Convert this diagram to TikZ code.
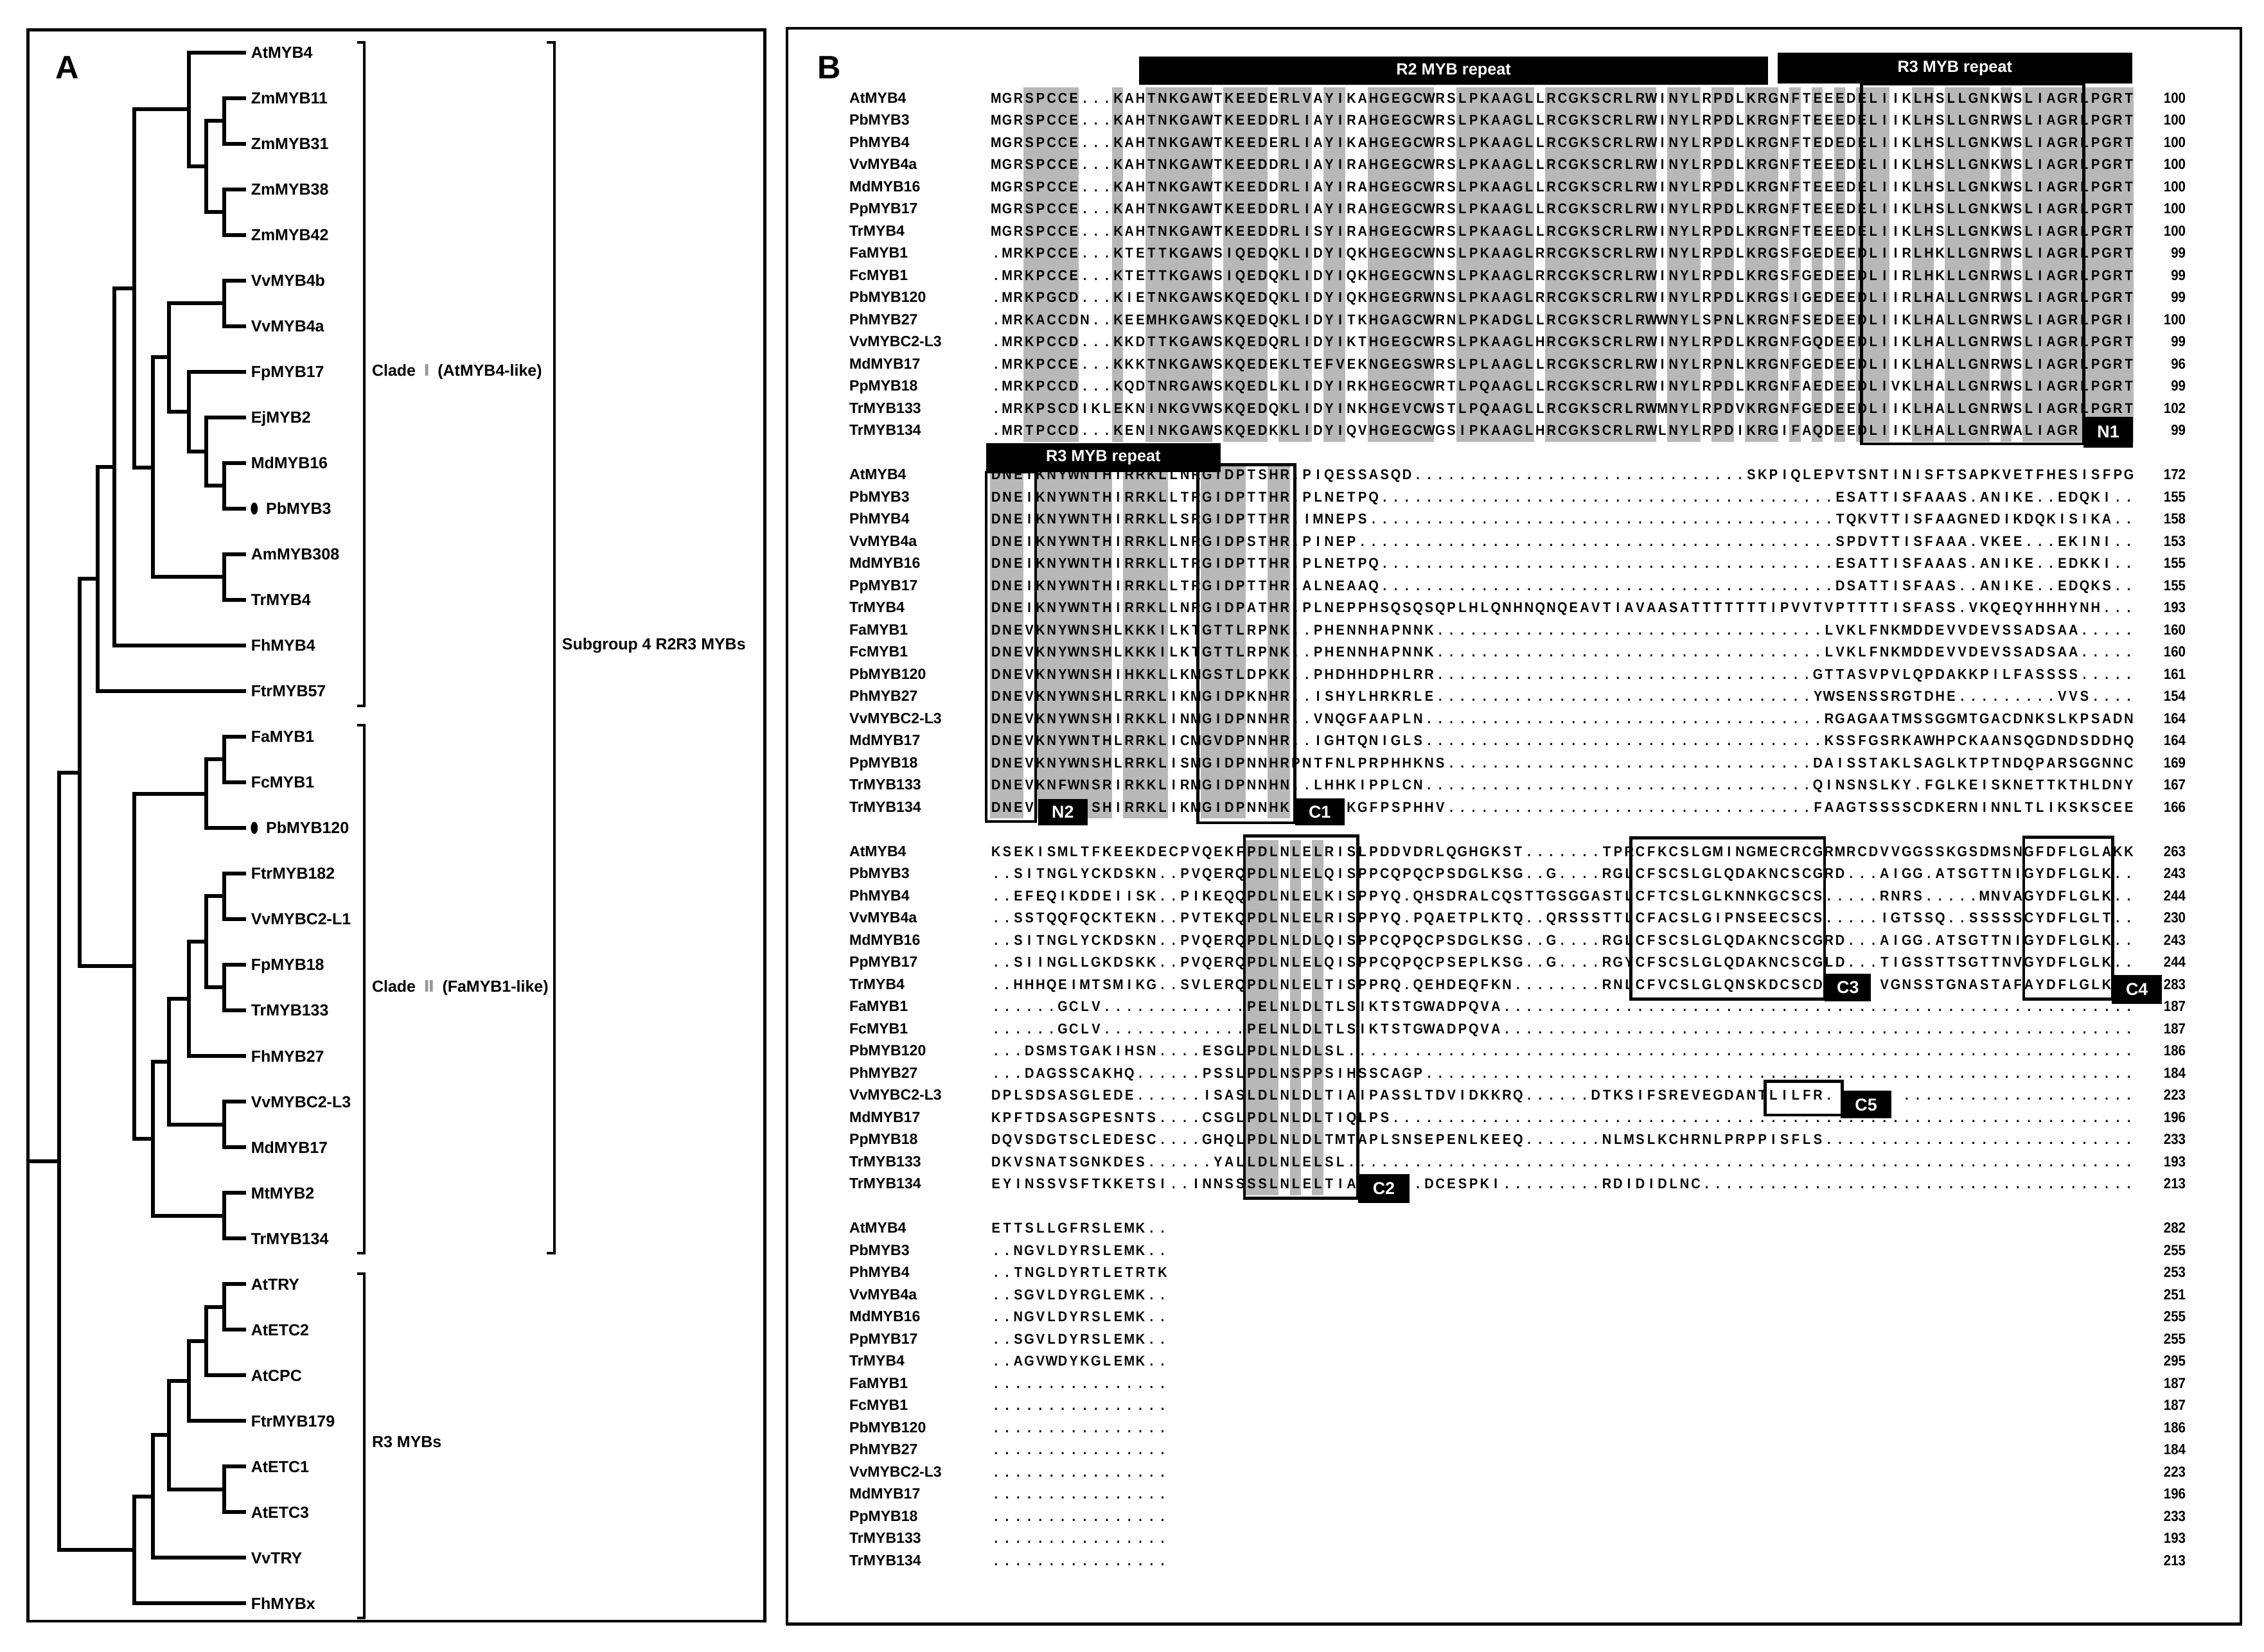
\documentclass[tikz,border=0pt]{standalone}
\usepackage{fontspec}
\setmainfont{Liberation Sans}
\newfontfamily\symfont{DejaVu Sans}
\newfontfamily\resfont[FakeStretch=0.9]{Liberation Sans}
\usetikzlibrary{positioning}

% one residue per alignment column (* = empty column under a tag)
\newlength\colw
\setlength\colw{0.19225cm}
\newcommand\rescell[1]{\hbox to\colw{\hss#1\hss}}
\def\resone#1{\ifx#1*\rescell{}\else\rescell{#1}\fi}
\def\resloop#1{\ifx#1\relax\else\resone{#1}\expandafter\resloop\fi}
% #1 columns, #2 left part, #3 right part, gap filled with dots
\newcommand\seqrow[3]{\hbox to #1\colw{\expandafter\resloop#2\relax\leaders\hbox to\colw{\hss.\hss}\hfill\expandafter\resloop#3\relax}}

\begin{document}
\begin{tikzpicture}[x=0.025cm,y=-0.025cm,
   br/.style={line width=1.9pt,line cap=rect},
   brk/.style={line width=1.3pt},
   frame/.style={line width=1.4pt},
   leaf/.style={anchor=base west,inner sep=0pt,font=\bfseries\fontsize{7.9}{9}\selectfont},
   panel/.style={anchor=base west,inner sep=0pt,font=\bfseries\fontsize{16}{18}\selectfont},
   seqname/.style={anchor=base west,inner sep=0pt,font=\bfseries\fontsize{7.3}{8}\selectfont},
   res/.style={anchor=base west,inner sep=0pt,font=\resfont\bfseries\fontsize{7}{8}\selectfont},
   resnum/.style={anchor=base east,inner sep=0pt,font=\resfont\bfseries\fontsize{7.2}{8}\selectfont},
   shade/.style={fill=black!28},
   motif/.style={draw,line width=1.5pt},
   tag/.style={fill=black,text=white,inner sep=0pt,font=\bfseries\fontsize{8.5}{9}\selectfont},
   bar/.style={fill=black,text=white,inner sep=0pt,font=\bfseries\fontsize{8}{9}\selectfont}]
  \fill[white] (0,0) rectangle (1568,1144);
  \useasboundingbox (0,0) rectangle (1568,1144);

  % ---------------- panel A
  \draw[frame] (19.4,20.6) rectangle (529.7,1123);
  \node[panel] (pA) at (38.2,54.4) {A};

  \foreach \nm/\dx [count=\i] in {AtMYB4/0,ZmMYB11/0,ZmMYB31/0,ZmMYB38/0,ZmMYB42/0,
     VvMYB4b/0,VvMYB4a/0,FpMYB17/0,EjMYB2/0,MdMYB16/0,PbMYB3/10.4,AmMYB308/0,TrMYB4/0,
     FhMYB4/0,FtrMYB57/0,FaMYB1/0,FcMYB1/0,PbMYB120/10.4,FtrMYB182/0,VvMYBC2-L1/0,
     FpMYB18/0,TrMYB133/0,FhMYB27/0,VvMYBC2-L3/0,MdMYB17/0,MtMYB2/0,TrMYB134/0,
     AtTRY/0,AtETC2/0,AtCPC/0,FtrMYB179/0,AtETC1/0,AtETC3/0,VvTRY/0,FhMYBx/0}{
    \pgfmathsetmacro\yy{36.3+31.6*(\i-1)}
    \coordinate (t\i) at (169.2,\yy);
    \node[leaf] (l\i) at ({173.6+\dx},{\yy+4}) {\nm};
  }
  \fill (176.1,352.3) ellipse (2.4 and 4.2);
  \fill (176.1,573.5) ellipse (2.4 and 4.2);

  \coordinate (zmA) at (155.1,83.7);
  \coordinate (zmB) at (155.1,146.9);
  \coordinate (zm) at (142.9,115.3);
  \coordinate (atzm) at (130.7,75.8);
  \coordinate (vv) at (155.1,210.1);
  \coordinate (mdpb) at (155.1,336.5);
  \coordinate (ej) at (142.9,312.8);
  \coordinate (fp) at (130.7,285.2);
  \coordinate (vvfp) at (117.2,247.6);
  \coordinate (amtr) at (155.1,399.7);
  \coordinate (ros) at (105.7,323.7);
  \coordinate (c1a) at (92.9,199.7);
  \coordinate (c1b) at (79.3,323.4);
  \coordinate (c1) at (67.8,401);
  \coordinate (fafc) at (155.1,526.1);
  \coordinate (fapb) at (142.9,549.8);
  \coordinate (ftrvv) at (155.1,620.9);
  \coordinate (fptr) at (155.1,684.1);
  \coordinate (c2a) at (142.9,652.5);
  \coordinate (c2b) at (130.7,692);
  \coordinate (vvmd) at (155.1,778.9);
  \coordinate (c2c) at (117.2,735.5);
  \coordinate (mttr) at (155.1,842.1);
  \coordinate (c2d) at (105.7,788.8);
  \coordinate (c2) at (92.9,669.3);
  \coordinate (sg4) at (55,535.2);
  \coordinate (tryA) at (155.1,905.3);
  \coordinate (tryB) at (142.9,929);
  \coordinate (tryC) at (130.7,956.7);
  \coordinate (etc) at (155.1,1031.7);
  \coordinate (r3a) at (117.2,994.2);
  \coordinate (r3b) at (105.7,1036.7);
  \coordinate (r3) at (92.9,1073.7);
  \coordinate (root) at (40.8,804.5);
  \coordinate (rootin) at (19.5,804.5);

  \draw[br] (t2) -| (zmA) |- (t3);
  \draw[br] (t4) -| (zmB) |- (t5);
  \draw[br] (zmA) -| (zm) |- (zmB);
  \draw[br] (t1) -| (atzm) |- (zm);
  \draw[br] (t6) -| (vv) |- (t7);
  \draw[br] (t10) -| (mdpb) |- (t11);
  \draw[br] (t9) -| (ej) |- (mdpb);
  \draw[br] (t8) -| (fp) |- (ej);
  \draw[br] (vv) -| (vvfp) |- (fp);
  \draw[br] (t12) -| (amtr) |- (t13);
  \draw[br] (vvfp) -| (ros) |- (amtr);
  \draw[br] (atzm) -| (c1a) |- (ros);
  \draw[br] (c1a) -| (c1b) |- (t14);
  \draw[br] (c1b) -| (c1) |- (t15);
  \draw[br] (t16) -| (fafc) |- (t17);
  \draw[br] (fafc) -| (fapb) |- (t18);
  \draw[br] (t19) -| (ftrvv) |- (t20);
  \draw[br] (t21) -| (fptr) |- (t22);
  \draw[br] (ftrvv) -| (c2a) |- (fptr);
  \draw[br] (c2a) -| (c2b) |- (t23);
  \draw[br] (t24) -| (vvmd) |- (t25);
  \draw[br] (c2b) -| (c2c) |- (vvmd);
  \draw[br] (t26) -| (mttr) |- (t27);
  \draw[br] (c2c) -| (c2d) |- (mttr);
  \draw[br] (fapb) -| (c2) |- (c2d);
  \draw[br] (c1) -| (sg4) |- (c2);
  \draw[br] (t28) -| (tryA) |- (t29);
  \draw[br] (tryA) -| (tryB) |- (t30);
  \draw[br] (tryB) -| (tryC) |- (t31);
  \draw[br] (t32) -| (etc) |- (t33);
  \draw[br] (tryC) -| (r3a) |- (etc);
  \draw[br] (r3a) -| (r3b) |- (t34);
  \draw[br] (r3b) -| (r3) |- (t35);
  \draw[br] (sg4) -| (root) |- (r3);
  \draw[br] (rootin) -- (root);

  % clade brackets
  \draw[brk] (247.2,29.2) -- (252.2,29.2) -- (252.2,489) -- (247.2,489);
  \draw[brk] (247.2,502.3) -- (252.2,502.3) -- (252.2,868) -- (247.2,868);
  \draw[brk] (247.2,882.2) -- (252.2,882.2) -- (252.2,1121) -- (247.2,1121);
  \draw[brk] (378.8,29.2) -- (383.8,29.2) -- (383.8,868) -- (378.8,868);
  \node[leaf] (cladeI) at (257.4,260.7)
       {Clade\hspace{0.5em}{\symfont\color{black!40}Ⅰ}\hspace{0.5em}(AtMYB4-like)};
  \node[leaf] (cladeII) at (257.4,687)
       {Clade\hspace{0.5em}{\symfont\color{black!40}Ⅱ}\hspace{0.5em}(FaMYB1-like)};
  \node[leaf] (r3lab) at (257.4,1002.8) {R3 MYBs};
  \node[leaf] (sg4lab) at (389,450.1) {Subgroup 4 R2R3 MYBs};

  % ---------------- panel B
  \draw[frame] (545,19.5) rectangle (1552,1125);
  \node[panel] (pB) at (566,54.4) {B};

  % conserved columns
  \foreach \a/\b in {4/8,12/12,15/20,22/25,27/29,31/32,35/40,43/49,51/60,62/64,66/67,
     69/71,73/73,75/75,77/77,79/81,84/85,87/90,92/92,94/103}
    \fill[shade] ({685.7+7.69*(\a-1)},60.3) rectangle ({685.7+7.69*\b},306);
  \foreach \a/\b in {1/3,5/11,13/16,20/23,26/27}
    \fill[shade] ({685.7+7.69*(\a-1)},321.3) rectangle ({685.7+7.69*\b},566.9);
  \foreach \a/\b in {24/26,28/28,30/30}
    \fill[shade] ({685.7+7.69*(\a-1)},582.2) rectangle ({685.7+7.69*\b},827.9);

  % block 1
  \foreach \nm/\pa/\pb/\num [count=\i from 0] in {
    AtMYB4/{MGRSPCCE...KAHTNKGAWTKEEDERLVAYIKAHGEGCWRSLPKAAGLLRCGKSCRLRWINYLRPDLKRGNFTEEEDELIIKLHSLLGNKWSLIAGRLPGRT}/{}/100,
    PbMYB3/{MGRSPCCE...KAHTNKGAWTKEEDDRLIAYIRAHGEGCWRSLPKAAGLLRCGKSCRLRWINYLRPDLKRGNFTEEEDELIIKLHSLLGNRWSLIAGRLPGRT}/{}/100,
    PhMYB4/{MGRSPCCE...KAHTNKGAWTKEEDERLIAYIKAHGEGCWRSLPKAAGLLRCGKSCRLRWINYLRPDLKRGNFTEDEDELIIKLHSLLGNKWSLIAGRLPGRT}/{}/100,
    VvMYB4a/{MGRSPCCE...KAHTNKGAWTKEEDDRLIAYIRAHGEGCWRSLPKAAGLLRCGKSCRLRWINYLRPDLKRGNFTEEEDELIIKLHSLLGNKWSLIAGRLPGRT}/{}/100,
    MdMYB16/{MGRSPCCE...KAHTNKGAWTKEEDDRLIAYIRAHGEGCWRSLPKAAGLLRCGKSCRLRWINYLRPDLKRGNFTEEEDELIIKLHSLLGNKWSLIAGRLPGRT}/{}/100,
    PpMYB17/{MGRSPCCE...KAHTNKGAWTKEEDDRLIAYIRAHGEGCWRSLPKAAGLLRCGKSCRLRWINYLRPDLKRGNFTEEEDELIIKLHSLLGNKWSLIAGRLPGRT}/{}/100,
    TrMYB4/{MGRSPCCE...KAHTNKGAWTKEEDDRLISYIRAHGEGCWRSLPKAAGLLRCGKSCRLRWINYLRPDLKRGNFTEEEDELIIKLHSLLGNKWSLIAGRLPGRT}/{}/100,
    FaMYB1/{.MRKPCCE...KTETTKGAWSIQEDQKLIDYIQKHGEGCWNSLPKAAGLRRCGKSCRLRWINYLRPDLKRGSFGEDEEDLIIRLHKLLGNRWSLIAGRLPGRT}/{}/99,
    FcMYB1/{.MRKPCCE...KTETTKGAWSIQEDQKLIDYIQKHGEGCWNSLPKAAGLRRCGKSCRLRWINYLRPDLKRGSFGEDEEDLIIRLHKLLGNRWSLIAGRLPGRT}/{}/99,
    PbMYB120/{.MRKPGCD...KIETNKGAWSKQEDQKLIDYIQKHGEGRWNSLPKAAGLRRCGKSCRLRWINYLRPDLKRGSIGEDEEDLIIRLHALLGNRWSLIAGRLPGRT}/{}/99,
    PhMYB27/{.MRKACCDN..KEEMHKGAWSKQEDQKLIDYITKHGAGCWRNLPKADGLLRCGKSCRLRWWNYLSPNLKRGNFSEDEEDLIIKLHALLGNRWSLIAGRLPGRI}/{}/100,
    VvMYBC2-L3/{.MRKPCCD...KKDTTKGAWSKQEDQRLIDYIKTHGEGCWRSLPKAAGLHRCGKSCRLRWINYLRPDLKRGNFGQDEEDLIIKLHALLGNRWSLIAGRLPGRT}/{}/99,
    MdMYB17/{.MRKPCCE...KKKTNKGAWSKQEDEKLTEFVEKNGEGSWRSLPLAAGLLRCGKSCRLRWINYLRPNLKRGNFGEDEEDLIIKLHALLGNRWSLIAGRLPGRT}/{}/96,
    PpMYB18/{.MRKPCCD...KQDTNRGAWSKQEDLKLIDYIRKHGEGCWRTLPQAAGLLRCGKSCRLRWINYLRPDLKRGNFAEDEEDLIVKLHALLGNRWSLIAGRLPGRT}/{}/99,
    TrMYB133/{.MRKPSCDIKLEKNINKGVWSKQEDQKLIDYINKHGEVCWSTLPQAAGLLRCGKSCRLRWMNYLRPDVKRGNFGEDEEDLIIKLHALLGNRWSLIAGRLPGRT}/{}/102,
    TrMYB134/{.MRTPCCD...KENINKGAWSKQEDKKLIDYIQVHGEGCWGSIPKAAGLHRCGKSCRLRWLNYLRPDIKRGIFAQDEEDLIIKLHALLGNRWALIAGR*****}/{}/99}{
    \pgfmathsetmacro\yy{68+15.35*\i+3.4}
    \node[seqname] (nA\i) at (588,\yy) {\nm};
    \node[res] (sA\i) at (685.7,\yy) {\seqrow{103}{\pa}{\pb}};
    \node[resnum] (kA\i) at (1514,\yy) {\num};
  }

  % block 2
  \foreach \nm/\pa/\pb/\num [count=\i from 0] in {
    AtMYB4/{DNEIKNYWNTHIRRKLLNRGIDPTSHR.PIQESSASQD}/{SKPIQLEPVTSNTINISFTSAPKVETFHESISFPG}/172,
    PbMYB3/{DNEIKNYWNTHIRRKLLTRGIDPTTHR.PLNETPQ}/{ESATTISFAAAS.ANIKE..EDQKI..}/155,
    PhMYB4/{DNEIKNYWNTHIRRKLLSRGIDPTTHR.IMNEPS}/{TQKVTTISFAAGNEDIKDQKISIKA..}/158,
    VvMYB4a/{DNEIKNYWNTHIRRKLLNRGIDPSTHR.PINEP}/{SPDVTTISFAAA.VKEE...EKINI..}/153,
    MdMYB16/{DNEIKNYWNTHIRRKLLTRGIDPTTHR.PLNETPQ}/{ESATTISFAAAS.ANIKE..EDKKI..}/155,
    PpMYB17/{DNEIKNYWNTHIRRKLLTRGIDPTTHR.ALNEAAQ}/{DSATTISFAAS..ANIKE..EDQKS..}/155,
    TrMYB4/{DNEIKNYWNTHIRRKLLNRGIDPATHR.PLNEPPHSQSQSQPLHLQNHNQNQEAVTIAVAASATTTTTTTIPVVTVPTTTTISFASS.VKQEQYHHHYNH...}/{}/193,
    FaMYB1/{DNEVKNYWNSHLKKKILKTGTTLRPNK..PHENNHAPNNK}/{LVKLFNKMDDEVVDEVSSADSAA.....}/160,
    FcMYB1/{DNEVKNYWNSHLKKKILKTGTTLRPNK..PHENNHAPNNK}/{LVKLFNKMDDEVVDEVSSADSAA.....}/160,
    PbMYB120/{DNEVKNYWNSHIHKKLLKMGSTLDPKK..PHDHHDPHLRR}/{GTTASVPVLQPDAKKPILFASSSS.....}/161,
    PhMYB27/{DNEVKNYWNSHLRRKLIKMGIDPKNHR..ISHYLHRKRLE}/{YWSENSSRGTDHE.........VVS....}/154,
    VvMYBC2-L3/{DNEVKNYWNSHIRKKLINMGIDPNNHR..VNQGFAAPLN}/{RGAGAATMSSGGMTGACDNKSLKPSADN}/164,
    MdMYB17/{DNEVKNYWNTHLRRKLICMGVDPNNHR..IGHTQNIGLS}/{KSSFGSRKAWHPCKAANSQGDNDSDDHQ}/164,
    PpMYB18/{DNEVKNYWNSHLRRKLISMGIDPNNHRPNTFNLPRPHHKNS}/{DAISSTAKLSAGLKTPTNDQPARSGGNNC}/169,
    TrMYB133/{DNEVKNFWNSRIRKKLIRMGIDPNNHN..LHHKIPPLCN}/{QINSNSLKY.FGLKEISKNETTKTHLDNY}/167,
    TrMYB134/{DNEV*****SHIRRKLIKMGIDPNNHK*****KGFPSPHHV}/{FAAGTSSSSCDKERNINNLTLIKSKSCEE}/166}{
    \pgfmathsetmacro\yy{68+15.35*(17+\i)+3.4}
    \node[seqname] (nB\i) at (588,\yy) {\nm};
    \node[res] (sB\i) at (685.7,\yy) {\seqrow{103}{\pa}{\pb}};
    \node[resnum] (kB\i) at (1514,\yy) {\num};
  }

  % block 3
  \foreach \nm/\pa/\pb/\num [count=\i from 0] in {
    AtMYB4/{KSEKISMLTFKEEKDECPVQEKFPDLNLELRISLPDDVDRLQGHGKST.......TPRCFKCSLGMINGMECRCGRMRCDVVGGSSKGSDMSNGFDFLGLAKK}/{}/263,
    PbMYB3/{..SITNGLYCKDSKN..PVQERQPDLNLELQISPPCQPQCPSDGLKSG..G....RGLCFSCSLGLQDAKNCSCGRD...AIGG.ATSGTTNIGYDFLGLK..}/{}/243,
    PhMYB4/{..EFEQIKDDEIISK..PIKEQQPDLNLELKISPPYQ.QHSDRALCQSTTGSGGASTLCFTCSLGLKNNKGCSCS.....RNRS.....MNVAGYDFLGLK..}/{}/244,
    VvMYB4a/{..SSTQQFQCKTEKN..PVTEKQPDLNLELRISPPYQ.PQAETPLKTQ..QRSSSTTLCFACSLGIPNSEECSCS.....IGTSSQ..SSSSSCYDFLGLT..}/{}/230,
    MdMYB16/{..SITNGLYCKDSKN..PVQERQPDLNLDLQISPPCQPQCPSDGLKSG..G....RGLCFSCSLGLQDAKNCSCGRD...AIGG.ATSGTTNIGYDFLGLK..}/{}/243,
    PpMYB17/{..SIINGLLGKDSKK..PVQERQPDLNLELQISPPCQPQCPSEPLKSG..G....RGYCFSCSLGLQDAKNCSCGLD...TIGSSTTSGTTNVGYDFLGLK..}/{}/244,
    TrMYB4/{..HHHQEIMTSMIKG..SVLERQPDLNLELTISPPRQ.QEHDEQFKN........RNLCFVCSLGLQNSKDCSCD*****VGNSSTGNASTAFAYDFLGLK**}/{}/283,
    FaMYB1/{......GCLV.............PELNLDLTLSIKTSTGWADPQVA}/{}/187,
    FcMYB1/{......GCLV.............PELNLDLTLSIKTSTGWADPQVA}/{}/187,
    PbMYB120/{...DSMSTGAKIHSN....ESGLPDLNLDLSL.}/{}/186,
    PhMYB27/{...DAGSSCAKHQ......PSSLPDLNSPPSIHSSCAGP}/{}/184,
    VvMYBC2-L3/{DPLSDSASGLEDE......ISASLDLNLDLTIAIPASSLTDVIDKKRQ......DTKSIFSREVEGDANTLILFR.******}/{}/223,
    MdMYB17/{KPFTDSASGPESNTS....CSGLPDLNLDLTIQLPS}/{}/196,
    PpMYB18/{DQVSDGTSCLEDESC....GHQLPDLNLDLTMTAPLSNSEPENLKEEQ.......NLMSLKCHRNLPRPPISFLS.}/{}/233,
    TrMYB133/{DKVSNATSGNKDES......YALLDLNLELSL.}/{}/193,
    TrMYB134/{EYINSSVSFTKKETSI..INNSSSSLNLELTIA*****.DCESPKI.........RDIDIDLNC.}/{}/213}{
    \pgfmathsetmacro\yy{68+15.35*(34+\i)+3.4}
    \node[seqname] (nC\i) at (588,\yy) {\nm};
    \node[res] (sC\i) at (685.7,\yy) {\seqrow{103}{\pa}{\pb}};
    \node[resnum] (kC\i) at (1514,\yy) {\num};
  }

  % block 4
  \foreach \nm/\pa/\num [count=\i from 0] in {
    AtMYB4/{ETTSLLGFRSLEMK..}/282, PbMYB3/{..NGVLDYRSLEMK..}/255,
    PhMYB4/{..TNGLDYRTLETRTK}/253, VvMYB4a/{..SGVLDYRGLEMK..}/251,
    MdMYB16/{..NGVLDYRSLEMK..}/255, PpMYB17/{..SGVLDYRSLEMK..}/255,
    TrMYB4/{..AGVWDYKGLEMK..}/295, FaMYB1/{}/187, FcMYB1/{}/187,
    PbMYB120/{}/186, PhMYB27/{}/184, VvMYBC2-L3/{}/223, MdMYB17/{}/196,
    PpMYB18/{}/233, TrMYB133/{}/193, TrMYB134/{}/213}{
    \pgfmathsetmacro\yy{68+15.35*(51+\i)+3.4}
    \node[seqname] (nD\i) at (588,\yy) {\nm};
    \node[res] (sD\i) at (685.7,\yy) {\seqrow{16}{\pa}{}};
    \node[resnum] (kD\i) at (1514,\yy) {\num};
  }

  % motif boxes
  \draw[motif] (1289.3,58) rectangle (1443.2,307.4);
  \draw[motif] (683,327) rectangle (717.2,569.1);
  \draw[motif] (829.7,322) rectangle (896.8,570);
  \draw[motif] (861.9,579) rectangle (940.5,830.1);
  \draw[motif] (1129.6,580.3) rectangle (1263.7,692);
  \draw[motif] (1401.6,580) rectangle (1463.1,692);
  \draw[motif] (1222.6,749) rectangle (1275.9,772.4);

  % repeat bars
  \node[bar,minimum width=10.89cm,minimum height=0.49cm] (r2bar) at (1006.75,49.05) {R2 MYB repeat};
  \node[bar,minimum width=6.145cm,minimum height=0.535cm] (r3barA) at (1353.9,47.2) {R3 MYB repeat};
  \node[bar,minimum width=4.06cm,minimum height=0.505cm] (r3barB) at (764.15,317.1) {R3 MYB repeat};

  % motif tags
  \node[tag,minimum width=0.85cm,minimum height=0.535cm] (tN1) at (1460.1,299.3) {N1};
  \node[tag,minimum width=0.86cm,minimum height=0.46cm] (tN2) at (736.1,562.5) {N2};
  \node[tag,minimum width=0.86cm,minimum height=0.47cm] (tC1) at (914,562.4) {C1};
  \node[tag,minimum width=0.895cm,minimum height=0.5cm] (tC2) at (958.4,823.4) {C2};
  \node[tag,minimum width=0.8cm,minimum height=0.48cm] (tC3) at (1279.8,684) {C3};
  \node[tag,minimum width=0.87cm,minimum height=0.5cm] (tC4) at (1480,685.3) {C4};
  \node[tag,minimum width=0.88cm,minimum height=0.48cm] (tC5) at (1292.4,765.2) {C5};
\end{tikzpicture}
\end{document}
